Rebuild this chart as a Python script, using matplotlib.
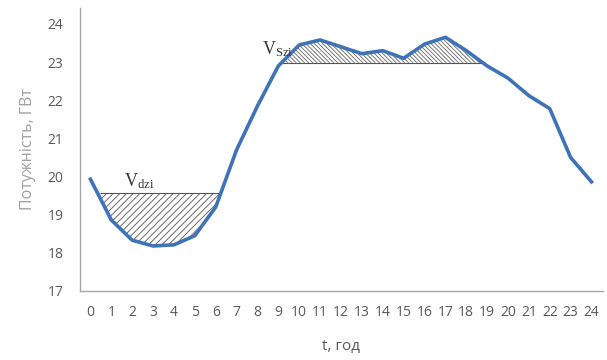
import matplotlib.pyplot as plt
import numpy as np

# hourly load curve
hours = np.arange(0, 25)
power = [19.93, 18.86, 18.33, 18.18, 18.21, 18.45, 19.2, 20.7, 21.85, 22.9,
         23.45, 23.58, 23.4, 23.22, 23.3, 23.1, 23.47, 23.65, 23.3, 22.9,
         22.58, 22.12, 21.78, 20.5, 19.86]

# levels of the hatched areas
dzi_level = 19.57
szi_level = 22.98

plt.rcParams['font.family'] = ['Open Sans', 'DejaVu Sans']
plt.rcParams['mathtext.fontset'] = 'custom'
plt.rcParams['mathtext.rm'] = 'Liberation Serif'
plt.rcParams['mathtext.it'] = 'Liberation Serif'
plt.rcParams['hatch.color'] = '#555555'
plt.rcParams['hatch.linewidth'] = 0.6

fig = plt.figure(figsize=(6.07, 3.6), dpi=100)
ax = fig.add_axes([0.1318, 0.1917, 0.8616, 0.7863])

h = np.array(hours, dtype=float)
p = np.array(power)

# Vdzi area (under the level, up to hour ~6)
ax.fill_between(h, p, dzi_level, where=(p <= dzi_level) & (h <= 7), interpolate=True,
                facecolor='white', edgecolor='#555555', hatch='/////', linewidth=0)
ax.plot([0.5, 6.25], [dzi_level, dzi_level], color='#555555', lw=0.8)

# Vszi area (above the level)
ax.fill_between(h, p, szi_level, where=(p >= szi_level), interpolate=True,
                facecolor='white', edgecolor='#666666', hatch='\\\\\\\\\\\\\\\\', linewidth=0)
ax.plot([9.05, 18.75], [szi_level, szi_level], color='#555555', lw=0.8)

ax.plot(hours, power, color='#3f73b8', lw=2.6, solid_joinstyle='round', zorder=3)

ax.text(1.6, dzi_level + 0.05, r'$\mathrm{V_{dzi}}$', fontsize=13, color='#333333', va='bottom')
ax.text(8.2, szi_level + 0.1, r'$\mathrm{V_{Szi}}$', fontsize=13, color='#333333', va='bottom')

ax.set_xlim(-0.5, 24.55)
ax.set_ylim(17, 24.42)
ax.set_xticks(hours)
ax.set_yticks(range(17, 25))
ax.tick_params(length=0, labelsize=10, colors='#595959', pad=10)
ax.tick_params(axis='y', pad=12)

for s in ['top', 'right']:
    ax.spines[s].set_visible(False)
for s in ['left', 'bottom']:
    ax.spines[s].set_color('#a6a6a6')
    ax.spines[s].set_linewidth(1.0)

ax.set_ylabel('Потужність, ГВт', fontsize=11.5, color='#a0a0a0', labelpad=8)
ax.set_xlabel('t, год', fontsize=11, color='#595959', labelpad=14)

fig.savefig('out.png', dpi=100)
